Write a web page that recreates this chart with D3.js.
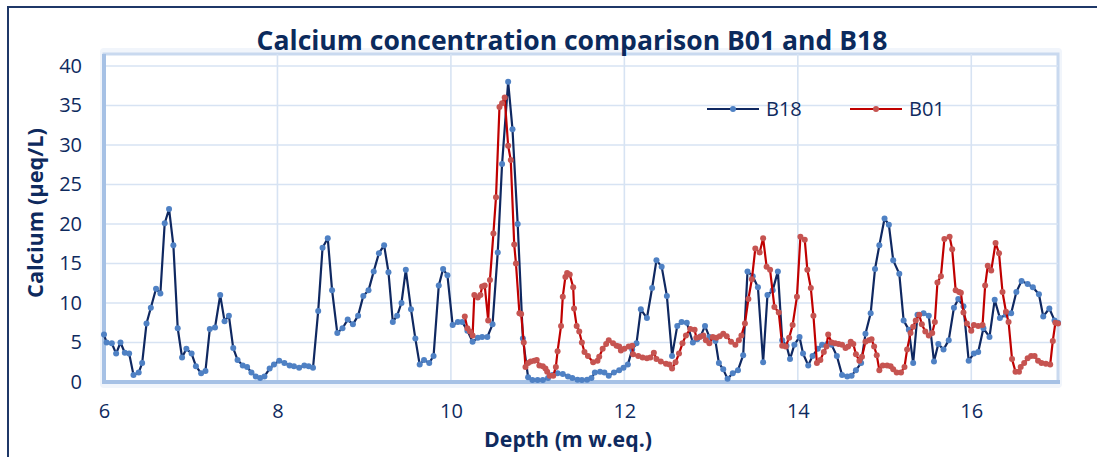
<!DOCTYPE html>
<html>
<head>
<meta charset="utf-8">
<script src="https://cdn.jsdelivr.net/npm/d3@7"></script>
<style>
  body { margin: 0; background: #fff; }
  svg { display: block; font-family: "Open Sans", sans-serif; }
</style>
</head>
<body>
<svg id="chart" width="1097" height="457"></svg>
<script>
// values
const b18Depth = [6.00, 6.03, 6.09, 6.14, 6.19, 6.24, 6.29, 6.34, 6.40, 6.44, 6.49, 6.54, 6.60, 6.65, 6.70, 6.75, 6.80, 6.85, 6.90, 6.95,
  7.01, 7.06, 7.12, 7.17, 7.22, 7.28, 7.34, 7.39, 7.44, 7.49, 7.54, 7.60, 7.65, 7.70, 7.75, 7.80, 7.85, 7.91, 7.96, 8.02,
  8.08, 8.14, 8.19, 8.25, 8.31, 8.36, 8.41, 8.47, 8.52, 8.58, 8.63, 8.69, 8.75, 8.81, 8.87, 8.93, 8.99, 9.05, 9.11, 9.17,
  9.23, 9.28, 9.33, 9.38, 9.43, 9.48, 9.54, 9.59, 9.64, 9.69, 9.75, 9.80, 9.86, 9.91, 9.96, 10.02, 10.08, 10.13, 10.19, 10.25,
  10.31, 10.36, 10.42, 10.48, 10.54, 10.59, 10.66, 10.71, 10.77, 10.83, 10.89, 10.94, 11.00, 11.06, 11.12, 11.17, 11.23, 11.29, 11.35, 11.40,
  11.46, 11.51, 11.57, 11.62, 11.66, 11.72, 11.77, 11.82, 11.88, 11.94, 11.99, 12.04, 12.09, 12.14, 12.19, 12.26, 12.32, 12.37, 12.43, 12.49,
  12.55, 12.61, 12.66, 12.72, 12.79, 12.84, 12.88, 12.93, 12.98, 13.05, 13.09, 13.14, 13.19, 13.25, 13.31, 13.37, 13.42, 13.48, 13.54, 13.60,
  13.65, 13.71, 13.77, 13.82, 13.87, 13.91, 13.96, 14.02, 14.06, 14.12, 14.17, 14.23, 14.28, 14.34, 14.39, 14.45, 14.51, 14.57, 14.62, 14.67,
  14.73, 14.78, 14.84, 14.89, 14.94, 15.00, 15.05, 15.10, 15.17, 15.22, 15.28, 15.33, 15.38, 15.45, 15.51, 15.57, 15.62, 15.68, 15.74, 15.80,
  15.85, 15.91, 15.97, 16.03, 16.08, 16.14, 16.21, 16.27, 16.33, 16.40, 16.46, 16.52, 16.58, 16.65, 16.71, 16.78, 16.83, 16.90, 16.96, 17.00];
const b18Ca = [6.0, 5.0, 4.9, 3.6, 5.0, 3.7, 3.6, 0.9, 1.2, 2.4, 7.4, 9.4, 11.8, 11.2, 20.1, 21.9, 17.3, 6.8, 3.1, 4.2,
  3.6, 2.0, 1.1, 1.4, 6.7, 6.9, 11.0, 7.7, 8.4, 4.3, 2.8, 2.1, 1.9, 1.2, 0.7, 0.5, 0.7, 1.7, 2.2, 2.7,
  2.4, 2.1, 2.0, 1.8, 2.1, 2.0, 1.8, 9.0, 17.0, 18.2, 11.6, 6.2, 6.8, 7.9, 7.3, 8.4, 10.9, 11.6, 14.0, 16.3,
  17.3, 13.9, 7.6, 8.4, 10.0, 14.2, 9.2, 5.5, 2.2, 2.8, 2.4, 3.3, 12.2, 14.3, 13.5, 7.2, 7.6, 7.6, 6.5, 5.1,
  5.6, 5.7, 5.7, 7.3, 16.4, 27.6, 38.0, 32.0, 20.0, 5.5, 0.6, 0.25, 0.25, 0.25, 0.5, 0.9, 1.1, 1.0, 0.7, 0.5,
  0.3, 0.25, 0.3, 0.5, 1.2, 1.3, 1.2, 0.8, 1.2, 1.5, 1.8, 2.2, 4.1, 4.9, 9.2, 8.1, 11.9, 15.4, 14.6, 10.9,
  3.3, 7.1, 7.6, 7.5, 5.0, 5.4, 5.8, 7.1, 5.7, 5.2, 2.4, 1.6, 0.4, 1.1, 1.5, 3.4, 14.0, 13.4, 12.0, 2.5,
  11.0, 11.6, 14.0, 5.3, 4.6, 2.9, 4.7, 5.7, 3.6, 2.1, 3.3, 4.2, 4.7, 4.8, 4.7, 3.3, 0.9, 0.7, 0.8, 1.5,
  2.4, 6.1, 8.7, 14.3, 17.3, 20.7, 19.9, 15.4, 13.7, 7.8, 6.6, 2.4, 8.5, 8.7, 8.4, 2.6, 4.8, 4.1, 5.3, 9.4,
  10.5, 9.6, 2.7, 3.6, 3.8, 6.8, 5.7, 10.4, 8.1, 8.5, 8.7, 11.4, 12.8, 12.4, 12.0, 11.1, 8.3, 9.3, 7.8, 7.5];

const b01Depth = [10.16, 10.19, 10.22, 10.25, 10.27, 10.31, 10.34, 10.36, 10.39, 10.43, 10.45, 10.49, 10.52, 10.56, 10.59, 10.62, 10.66, 10.69, 10.73, 10.75,
  10.79, 10.81, 10.84, 10.86, 10.89, 10.92, 10.96, 10.99, 11.02, 11.06, 11.09, 11.11, 11.14, 11.18, 11.21, 11.23, 11.27, 11.29, 11.32, 11.34,
  11.37, 11.41, 11.42, 11.45, 11.48, 11.51, 11.54, 11.58, 11.64, 11.69, 11.71, 11.75, 11.79, 11.82, 11.87, 11.91, 11.94, 11.96, 12.00, 12.05,
  12.09, 12.10, 12.16, 12.21, 12.26, 12.30, 12.34, 12.37, 12.42, 12.48, 12.52, 12.55, 12.59, 12.63, 12.67, 12.71, 12.76, 12.81, 12.83, 12.87,
  12.91, 12.94, 12.98, 13.02, 13.06, 13.10, 13.14, 13.18, 13.23, 13.28, 13.32, 13.35, 13.39, 13.43, 13.47, 13.51, 13.56, 13.60, 13.64, 13.68,
  13.73, 13.78, 13.82, 13.86, 13.90, 13.94, 13.99, 14.03, 14.08, 14.11, 14.15, 14.18, 14.22, 14.26, 14.30, 14.33, 14.35, 14.39, 14.43, 14.47,
  14.51, 14.55, 14.58, 14.61, 14.64, 14.67, 14.71, 14.74, 14.78, 14.82, 14.85, 14.88, 14.91, 14.94, 14.98, 15.03, 15.07, 15.10, 15.14, 15.19,
  15.23, 15.26, 15.30, 15.33, 15.36, 15.40, 15.43, 15.47, 15.51, 15.55, 15.58, 15.61, 15.65, 15.69, 15.75, 15.78, 15.82, 15.86, 15.88, 15.91,
  15.95, 16.00, 16.03, 16.08, 16.13, 16.16, 16.19, 16.23, 16.28, 16.32, 16.36, 16.40, 16.43, 16.47, 16.51, 16.55, 16.57, 16.61, 16.65, 16.69,
  16.73, 16.77, 16.81, 16.86, 16.91, 16.94, 16.97, 17.00];
const b01Ca = [8.3, 6.8, 6.4, 5.9, 11.0, 10.7, 11.0, 12.1, 12.2, 7.8, 12.9, 18.8, 23.4, 34.8, 35.3, 36.0, 29.9, 28.1, 17.4, 15.0,
  8.7, 8.6, 5.0, 1.9, 2.4, 2.6, 2.7, 2.8, 2.1, 2.0, 1.7, 1.3, 0.8, 0.8, 1.9, 3.9, 7.1, 10.8, 13.3, 13.8,
  13.6, 12.0, 9.3, 7.1, 6.4, 5.0, 3.8, 3.3, 2.5, 2.7, 3.2, 4.2, 4.8, 5.3, 4.9, 4.6, 4.5, 4.0, 4.2, 4.5,
  4.6, 3.5, 3.3, 3.1, 3.0, 3.1, 3.7, 2.9, 2.6, 2.3, 2.2, 1.7, 2.5, 3.6, 4.9, 5.9, 6.7, 6.6, 5.6, 5.7,
  5.9, 5.3, 4.9, 5.7, 5.6, 5.8, 6.1, 5.8, 5.1, 4.7, 5.3, 5.9, 7.4, 10.5, 13.0, 16.9, 16.4, 18.2, 14.6, 14.2,
  9.5, 8.8, 4.6, 4.5, 5.6, 7.2, 10.8, 18.4, 18.0, 14.2, 11.9, 8.4, 2.4, 2.8, 3.8, 4.5, 6.0, 5.0, 4.9, 4.8,
  4.7, 4.3, 4.5, 5.1, 4.8, 3.5, 2.7, 3.2, 5.1, 5.3, 5.4, 4.5, 3.4, 1.5, 2.1, 2.1, 2.0, 1.6, 1.2, 1.2,
  1.9, 4.1, 6.2, 7.0, 7.8, 8.5, 7.3, 6.4, 5.9, 6.2, 7.6, 12.6, 13.4, 18.1, 18.4, 16.8, 11.6, 11.4, 11.3, 8.8,
  7.4, 6.5, 7.2, 7.1, 7.2, 12.2, 14.7, 14.1, 17.6, 16.3, 11.4, 8.9, 7.6, 2.9, 1.3, 1.3, 1.9, 2.4, 3.0, 3.3,
  3.3, 2.7, 2.4, 2.3, 2.2, 5.2, 7.5, 7.4];

const xTicks = [6, 8, 10, 12, 14, 16];
const yTicks = [0, 5, 10, 15, 20, 25, 30, 35, 40];

const series = [
  { name: "B18", depth: b18Depth, ca: b18Ca, line: "#0f2861", dot: "#4f81c4" },
  { name: "B01", depth: b01Depth, ca: b01Ca, line: "#c00000", dot: "#c65451" }
];

const navy = "#0e2a5e";
const svg = d3.select("#chart");

const x = d3.scaleLinear().domain([6, 17]).range([104, 1058]);
const y = d3.scaleLinear().domain([0, 40]).range([382, 66]);

// outer chart frame
svg.append("rect")
  .attr("x", 8).attr("y", 7)
  .attr("width", 1200).attr("height", 600)
  .attr("fill", "#fff")
  .attr("stroke", "#1f3868")
  .attr("stroke-width", 2);

// plot panel
svg.append("rect")
  .attr("x", 100).attr("y", 48)
  .attr("width", 962).attr("height", 340)
  .attr("rx", 4)
  .attr("fill", "#f1f5fb");
svg.append("rect")
  .attr("x", x(6)).attr("y", 54)
  .attr("width", x(17) - x(6)).attr("height", y(0) - 54)
  .attr("fill", "#fff")
  .attr("stroke", "#c9d9ef")
  .attr("stroke-width", 3);

// gridlines
svg.append("g")
  .selectAll("line")
  .data(yTicks.filter(d => d > 0))
  .enter()
  .append("line")
  .attr("x1", x(6)).attr("x2", x(17))
  .attr("y1", d => y(d)).attr("y2", d => y(d))
  .attr("stroke", "#d7e3f3")
  .attr("stroke-width", 1.6);

svg.append("g")
  .selectAll("line")
  .data(xTicks.filter(d => d > 6))
  .enter()
  .append("line")
  .attr("x1", d => x(d)).attr("x2", d => x(d))
  .attr("y1", 54).attr("y2", y(0))
  .attr("stroke", "#d7e3f3")
  .attr("stroke-width", 1.6);

// axis lines (thick, light blue)
svg.append("line")
  .attr("x1", x(6)).attr("x2", x(6))
  .attr("y1", 54).attr("y2", y(0) + 2)
  .attr("stroke", "#a6c1e5").attr("stroke-width", 4);
svg.append("line")
  .attr("x1", x(6) - 2).attr("x2", x(17) + 2)
  .attr("y1", y(0)).attr("y2", y(0))
  .attr("stroke", "#a6c1e5").attr("stroke-width", 4);

// axes labels via d3 axes without domain/ticks
const yAxis = svg.append("g")
  .attr("transform", "translate(" + (x(6) - 22) + ",0)")
  .call(d3.axisLeft(y).tickValues(yTicks).tickSize(0).tickPadding(0));
yAxis.select(".domain").remove();
yAxis.selectAll("text")
  .attr("fill", navy)
  .style("font-size", "20px")
  .style("font-family", "'Open Sans', sans-serif");

const xAxis = svg.append("g")
  .attr("transform", "translate(0," + (y(0) + 22) + ")")
  .call(d3.axisBottom(x).tickValues(xTicks).tickSize(0).tickPadding(0));
xAxis.select(".domain").remove();
xAxis.selectAll("text")
  .attr("fill", navy)
  .style("font-size", "20px")
  .style("font-family", "'Open Sans', sans-serif");

// series
const line = d3.line().x(d => x(d[0])).y(d => y(d[1]));

series.forEach(s => {
  const pts = s.depth.map((d, i) => [d, s.ca[i]]);
  svg.append("path")
    .datum(pts)
    .attr("d", line)
    .attr("fill", "none")
    .attr("stroke", s.line)
    .attr("stroke-width", 2.2)
    .attr("stroke-linejoin", "round");
  svg.append("g")
    .selectAll("circle")
    .data(pts)
    .enter()
    .append("circle")
    .attr("cx", d => x(d[0]))
    .attr("cy", d => y(d[1]))
    .attr("r", 3)
    .attr("fill", s.dot);
});

// legend
const legendX = [707, 850];
series.forEach((s, i) => {
  const g = svg.append("g").attr("transform", "translate(" + legendX[i] + ",109)");
  g.append("line").attr("x1", 0).attr("x2", 52).attr("y1", 0).attr("y2", 0)
    .attr("stroke", s.line).attr("stroke-width", 2.2);
  g.append("circle").attr("cx", 26).attr("cy", 0).attr("r", 3).attr("fill", s.dot);
  g.append("text").attr("x", 59).attr("y", 7)
    .attr("fill", navy)
    .style("font-size", "20px")
    .text(s.name);
});

// titles, sized to the widths seen in the reference
function fitText(sel, target) {
  const w = sel.node().getComputedTextLength();
  const fs = parseFloat(sel.style("font-size"));
  sel.style("font-size", (fs * target / w) + "px");
}

const title = svg.append("text")
  .attr("x", 572).attr("y", 50)
  .attr("text-anchor", "middle")
  .attr("fill", "#0b2a5c")
  .style("font-weight", "bold")
  .style("font-size", "26px")
  .text("Calcium concentration comparison B01 and B18");
fitText(title, 631);

const yTitle = svg.append("text")
  .attr("transform", "translate(43,213) rotate(-90)")
  .attr("text-anchor", "middle")
  .attr("fill", navy)
  .style("font-weight", "bold")
  .style("font-size", "19px")
  .text("Calcium (µeq/L)");
fitText(yTitle, 170);

const xTitle = svg.append("text")
  .attr("x", 568).attr("y", 447)
  .attr("text-anchor", "middle")
  .attr("fill", navy)
  .style("font-weight", "bold")
  .style("font-size", "19px")
  .text("Depth (m w.eq.)");
fitText(xTitle, 168);
</script>
</body>
</html>
